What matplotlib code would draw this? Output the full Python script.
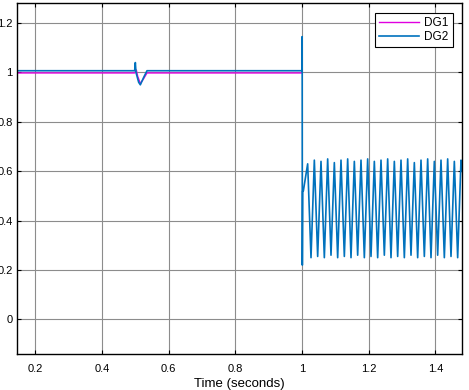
import numpy as np
import matplotlib
matplotlib.use('Agg')
import matplotlib.pyplot as plt

plt.rcParams['font.family'] = ['Liberation Sans', 'DejaVu Sans']

# DG1: flat near 1 pu with a small dip at t=0.5, ends at t=1
dg1_t = [0.145, 0.498, 0.503, 0.507, 0.515, 0.525, 0.535, 1.0]
dg1_y = [0.998, 0.998, 1.01, 0.985, 0.955, 0.975, 0.998, 0.998]

# DG2: same up to the fault at t=1, then a spike and 50 Hz oscillation
dg2_pre_t = [0.145, 0.498, 0.500, 0.502, 0.505, 0.510, 0.515, 0.525, 0.535,
             1.000, 1.0005, 1.001, 1.002, 1.004]
dg2_pre_y = [1.007, 1.007, 1.04, 1.0, 0.985, 0.96, 0.95, 0.98, 1.007,
             1.007, 1.145, 0.22, 0.52, 0.52]

osc_peak_t = [1.017, 1.037, 1.057, 1.077, 1.097, 1.117, 1.137, 1.157, 1.177,
              1.197, 1.217, 1.237, 1.257, 1.277, 1.297, 1.317, 1.337, 1.357,
              1.377, 1.397, 1.417, 1.437, 1.457, 1.477]
osc_peak_y = [0.63, 0.645, 0.64, 0.65, 0.635, 0.645, 0.65, 0.64, 0.645,
              0.65, 0.64, 0.645, 0.65, 0.64, 0.645, 0.65, 0.635, 0.645,
              0.65, 0.64, 0.645, 0.65, 0.64, 0.645]
osc_trough_t = [1.027, 1.047, 1.067, 1.087, 1.107, 1.127, 1.147, 1.167, 1.187,
                1.207, 1.227, 1.247, 1.267, 1.287, 1.307, 1.327, 1.347, 1.367,
                1.387, 1.407, 1.427, 1.447, 1.467]
osc_trough_y = [0.25, 0.255, 0.25, 0.26, 0.25, 0.255, 0.25, 0.26, 0.25,
                0.255, 0.25, 0.26, 0.25, 0.255, 0.25, 0.26, 0.25, 0.255,
                0.25, 0.26, 0.25, 0.255, 0.25]
dg2_end_t = [1.48]
dg2_end_y = [0.6]

# merge the oscillation points in time order
osc_t = osc_peak_t + osc_trough_t
osc_y = osc_peak_y + osc_trough_y
order = np.argsort(osc_t)
dg2_t = dg2_pre_t + [osc_t[i] for i in order] + dg2_end_t
dg2_y = dg2_pre_y + [osc_y[i] for i in order] + dg2_end_y

xticks = [0.2, 0.4, 0.6, 0.8, 1.0, 1.2, 1.4]
xticklabels = ['0.2', '0.4', '0.6', '0.8', '1', '1.2', '1.4']
yticks = [0, 0.2, 0.4, 0.6, 0.8, 1.0, 1.2]
yticklabels = ['0', '0.2', '0.4', '0.6', '0.8', '1', '1.2']

fig = plt.figure(figsize=(4.69, 3.90), dpi=100)
ax = fig.add_axes([17 / 469, 36 / 390, 445 / 469, 350.7 / 390])

ax.plot(dg1_t, dg1_y, color='#E000E0', lw=1.0, label='DG1')
ax.plot(dg2_t, dg2_y, color='#0072BD', lw=1.2, label='DG2')

ax.set_xlim(0.145, 1.48)
ax.set_ylim(-0.14, 1.28)
ax.set_xticks(xticks)
ax.set_xticklabels(xticklabels)
ax.set_yticks(yticks)
ax.set_yticklabels(yticklabels)
ax.tick_params(direction='in', length=3, width=0.8, labelsize=8,
               top=True, right=True)
ax.tick_params(axis='x', pad=7)
ax.tick_params(axis='y', pad=3)
ax.grid(True, color='#8c8c8c', lw=0.8)
for s in ax.spines.values():
    s.set_linewidth(1.0)
ax.set_xlabel('Time (seconds)', fontsize=9.5, labelpad=3)

leg = ax.legend(loc='upper right', fontsize=8.5, fancybox=False, framealpha=1,
                edgecolor='black', handlelength=3.4, borderaxespad=0.8,
                handletextpad=0.4, labelspacing=0.2, borderpad=0.35)
leg.get_frame().set_linewidth(0.8)

fig.savefig('out.png', dpi=100)
